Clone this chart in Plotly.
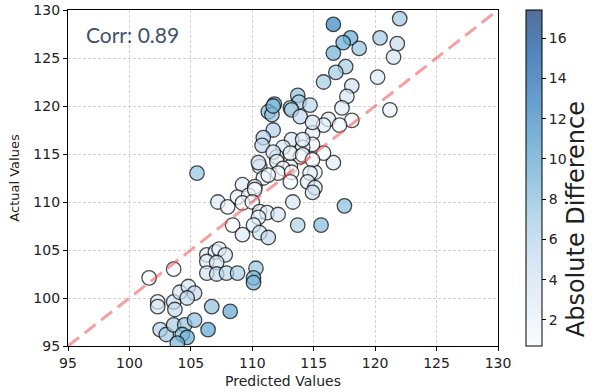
import plotly.graph_objects as go

predicted = [116.6,122.0,118.0,117.4,118.7,116.6,120.4,121.8,121.5,117.6,
             116.8,115.8,120.2,118.1,117.7,121.2,113.7,111.8,113.8,114.7,
             113.1,111.3,117.3,118.1,116.2,117.1,115.8,114.9,116.6,115.8,
             114.9,113.2,111.6,111.7,113.2,114.1,112.5,113.9,115.1,112.0,
             113.1,113.9,114.9,110.9,110.8,114.1,111.7,113.1,114.1,110.6,
             112.0,112.5,114.9,110.9,112.1,113.2,114.7,109.2,110.2,113.1,
             114.5,115.1,105.5,107.2,108.0,108.8,109.7,110.2,109.2,110.0,
             110.6,111.2,110.5,112.1,108.4,109.2,110.1,110.6,111.3,113.3,
             113.7,115.6,111.3,117.5,114.9,110.5,111.7,
             101.6,103.6,106.3,107.0,107.3,107.8,106.3,107.1,106.3,107.1,
             107.9,108.8,110.3,110.1,110.1,102.3,102.3,103.6,103.7,104.1,
             104.8,105.3,104.7,106.7,108.2,102.5,103.0,103.6,104.5,104.3,
             104.7,103.9,105.3,106.4]

actual = [128.5,129.1,127.1,126.6,126.0,125.5,127.1,126.5,125.1,124.1,
          123.5,122.5,123.0,122.1,121.0,119.6,121.1,120.2,120.4,120.1,
          119.8,119.4,119.8,118.5,118.6,118.0,118.0,117.2,114.1,115.1,
          116.0,119.6,119.1,117.5,116.5,115.7,115.7,114.7,113.1,114.7,
          113.7,118.9,118.3,116.7,115.9,116.5,115.2,115.1,114.9,113.7,
          114.2,113.5,114.4,112.5,113.0,113.1,113.0,111.8,111.6,112.1,
          112.1,111.5,113.0,110.0,109.5,110.5,110.7,111.3,109.9,110.0,
          109.0,108.9,108.4,108.7,107.6,106.6,107.6,106.8,106.3,110.0,
          107.6,107.6,112.8,109.6,111.0,114.1,120.0,
          102.1,103.0,104.5,104.8,105.1,104.5,103.8,103.7,102.6,102.5,
          102.6,102.6,103.1,102.1,101.6,99.6,99.1,99.6,98.8,100.6,
          101.2,100.5,100.0,99.1,98.6,96.7,96.2,97.2,97.2,96.2,
          95.9,95.3,97.7,96.7]

axis_limits = [95, 130]
colorbar_ticks = [2, 4, 6, 8, 10, 12, 14, 16]
corr_label = "Corr: 0.89"
colorbar_label = "Absolute Difference"

abs_diff = [abs(a - p) for a, p in zip(actual, predicted)]

blues = [(247,251,255),(222,235,247),(198,219,239),(158,202,225),(107,174,214),
         (66,146,198),(33,113,181),(8,81,156),(8,48,107)]
alpha = 0.7
colorscale = [[i/(len(blues)-1), f"rgba({r},{g},{b},{alpha})"] for i, (r, g, b) in enumerate(blues)]

fig = go.Figure()
fig.add_trace(go.Scatter(
    x=predicted, y=actual, mode="markers",
    marker=dict(
        size=14.5, color=abs_diff, colorscale=colorscale, cmin=0.7, cmax=17.4,
        line=dict(color="rgba(0,0,0,0.7)", width=1.3),
        colorbar=dict(
            thickness=16, thicknessmode="pixels", len=1, lenmode="fraction",
            x=1.065, xanchor="left", xpad=0, y=0.5, yanchor="middle", ypad=0,
            outlinewidth=1, outlinecolor="black",
            ticks="outside", ticklen=4, tickcolor="black",
            tickvals=colorbar_ticks, tickfont=dict(size=14, color="#222"),
        ),
    ),
    showlegend=False, hoverinfo="x+y",
))
fig.add_trace(go.Scatter(
    x=axis_limits, y=axis_limits, mode="lines",
    line=dict(color="rgba(240,80,80,0.55)", width=3, dash="14px,7px"),
    showlegend=False, hoverinfo="skip",
))

axis_common = dict(
    range=axis_limits, dtick=5, showgrid=True, gridcolor="#d2d2d2", gridwidth=0.8,
    griddash="3px,2px", zeroline=False, showline=True, linecolor="black", linewidth=1.2,
    mirror=True, ticks="outside", ticklen=4, tickcolor="black",
    tickfont=dict(size=14, color="#222"), automargin=False,
)
fig.update_xaxes(**axis_common, title=dict(text="Predicted Values", font=dict(size=14, color="#222"), standoff=6))
fig.update_yaxes(**axis_common, title=dict(text="Actual Values", font=dict(size=13, color="#222"), standoff=10))

fig.add_annotation(
    text=corr_label, xref="paper", yref="paper", x=0.038, y=0.926,
    xanchor="left", yanchor="middle", showarrow=False,
    font=dict(size=21, color="#3f5170", family="Lato"),
)
fig.add_annotation(
    text=colorbar_label, xref="paper", yref="paper", x=1.182, y=0.378,
    xanchor="center", yanchor="middle", showarrow=False, textangle=-90,
    font=dict(size=24, color="#222", family="DejaVu Sans"),
)

fig.update_layout(
    width=594, height=392, margin=dict(l=68, r=96, t=10, b=46, autoexpand=False),
    paper_bgcolor="white", plot_bgcolor="white",
    font=dict(family="DejaVu Sans", color="#222"),
)

fig.write_html("out.html", config={"displayModeBar": False},
               post_script="document.body.style.margin='0';document.body.style.overflow='hidden';")
